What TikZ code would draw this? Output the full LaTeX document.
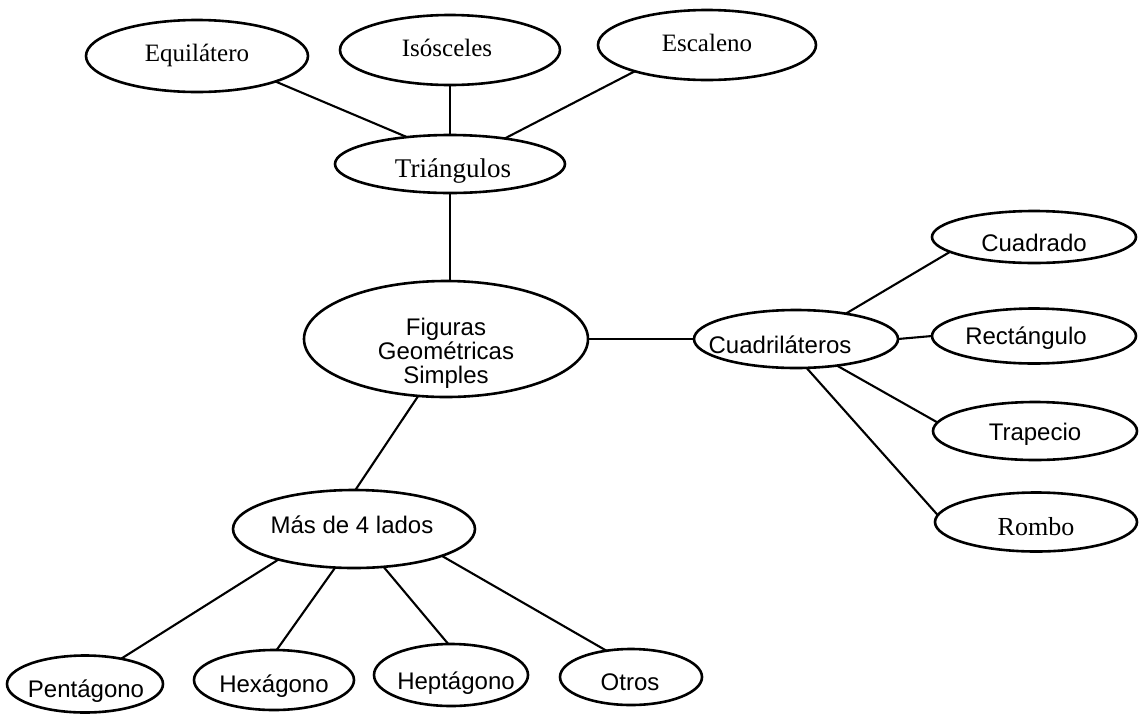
\documentclass[tikz,border=0pt]{standalone}
\usepackage{fontspec}
\setmainfont{Liberation Serif}
\newfontfamily\arialf{Liberation Sans}
\usetikzlibrary{shapes.geometric}
\tikzset{
  oval/.style={draw, ellipse, line width=2.6pt, inner sep=0pt, outer sep=0pt},
  link/.style={line width=2.1pt},
  sftxt/.style={font=\arialf\fontsize{24}{25}\selectfont, anchor=base},
  rmtxt/.style={font=\fontsize{25}{28}\selectfont, anchor=base},
}
\begin{document}
\begin{tikzpicture}[x=1pt,y=-1pt]
\path[use as bounding box, fill=white] (0,0) rectangle (1140,713);

% triangles branch
\node[oval, minimum width=222pt, minimum height=72pt,
  label={[rmtxt, yshift=1pt]center:Equilátero}] (equi) at (197,56) {};
\node[oval, minimum width=220pt, minimum height=70pt,
  label={[rmtxt, yshift=2pt, xshift=-3pt]center:Isósceles}] (isos) at (450,50) {};
\node[oval, minimum width=218pt, minimum height=70pt,
  label={[rmtxt, yshift=2pt]center:Escaleno}] (esca) at (707,45) {};
\node[oval, minimum width=230pt, minimum height=58pt,
  label={[rmtxt, font=\fontsize{27}{30}\selectfont, yshift=-7pt, xshift=3pt]center:Triángulos}] (tri) at (450,164) {};

% center
\node[oval, minimum width=284pt, minimum height=116pt,
  label={[font=\arialf\fontsize{24}{24}\selectfont, align=center, yshift=-14pt]center:Figuras\\Geométricas\\Simples}] (fig) at (446,339) {};

% quadrilaterals branch
\node[oval, minimum width=204pt, minimum height=58pt,
  label={[sftxt, yshift=-6pt, xshift=-16pt]center:Cuadriláteros}] (cuad) at (796,339) {};
\node[oval, minimum width=204pt, minimum height=52pt,
  label={[sftxt, yshift=-6pt]center:Cuadrado}] (cdo) at (1034,237) {};
\node[oval, minimum width=204pt, minimum height=55pt,
  label={[sftxt, yshift=-2pt, xshift=-8pt]center:Rectángulo}] (rect) at (1034,336) {};
\node[oval, minimum width=204pt, minimum height=58pt,
  label={[sftxt, yshift=-3pt]center:Trapecio}] (trap) at (1035,431) {};
\node[oval, minimum width=202pt, minimum height=59pt,
  label={[rmtxt, font=\fontsize{26}{29}\selectfont, yshift=-5pt]center:Rombo}] (rombo) at (1036,522) {};

% more than four sides branch
\node[oval, minimum width=242pt, minimum height=78pt,
  label={[sftxt, yshift=4pt, xshift=-2pt]center:Más de 4 lados}] (mas) at (354,529) {};
\node[oval, minimum width=156pt, minimum height=57pt,
  label={[sftxt, yshift=-7pt, xshift=1pt]center:Pentágono}] (pent) at (85,684) {};
\node[oval, minimum width=160pt, minimum height=60pt,
  label={[sftxt, yshift=-6pt]center:Hexágono}] (hexa) at (274,680) {};
\node[oval, minimum width=154pt, minimum height=62pt,
  label={[sftxt, yshift=-8pt, xshift=5pt]center:Heptágono}] (hepta) at (451,675) {};
\node[oval, minimum width=142pt, minimum height=56pt,
  label={[sftxt, yshift=-5pt, xshift=-1pt]center:Otros}] (otros) at (631,677) {};

% connectors
\draw[link] (equi.342) -- (tri.148);
\draw[link] (isos.south) -- (tri.north);
\draw[link] (esca.200) -- (tri.25);
\draw[link] (tri.south) -- (tri.south |- fig.north);
\draw[link] (fig.east) -- (cuad.west);
\draw[link] (fig.244) -- (mas.88);
\draw[link] (cuad.27) -- (cdo.190);
\draw[link] (cuad.east) -- (rect.west);
\draw[link] (cuad.-33) -- (trap.175);
\draw[link] (cuad.-70) -- (rombo.176);
\draw[link] (mas.202) -- (pent.35);
\draw[link] (mas.244) -- (hexa.85);
\draw[link] (mas.308) -- (hepta.95);
\draw[link] (mas.343) -- (otros.133);
\end{tikzpicture}
\end{document}
